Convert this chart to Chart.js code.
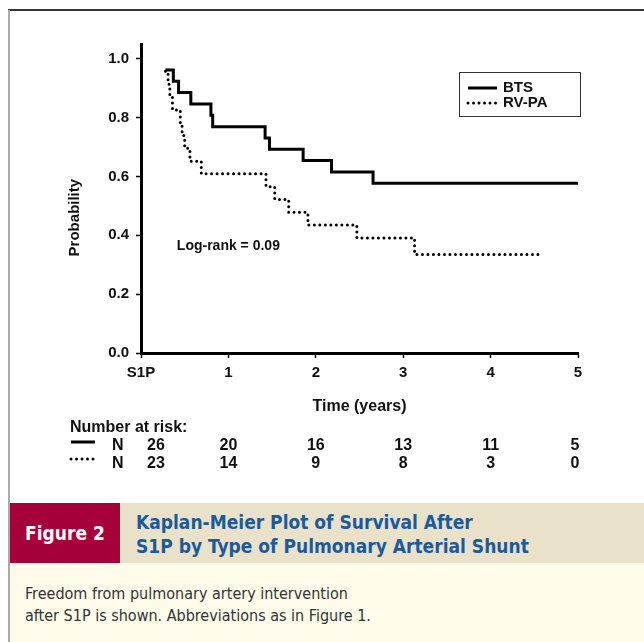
<!DOCTYPE html>
<html lang="en">
<head>
<meta charset="UTF-8">
<title>Figure 2 - Kaplan-Meier Plot</title>
<script src="https://cdn.jsdelivr.net/npm/chart.js"></script>
<style>
  html, body { margin: 0; padding: 0; background: #fff; }
  body { width: 644px; height: 642px; position: relative; overflow: hidden; font-family: "Liberation Sans", Arial, sans-serif; }
  .frame-top { position: absolute; left: 8px; top: 9px; width: 636px; height: 2px; background: #333; }
  .frame-left { position: absolute; left: 8px; top: 10px; width: 2px; height: 632px; background: #aaa; }
  .chart-wrapper { position: absolute; left: 0; top: 0; width: 644px; height: 500px; }
  .fig-label { position: absolute; left: 10px; top: 503px; width: 110px; height: 60px; background: #A6003A;
    color: #fff; font: bold 19px "Liberation Sans Narrow", "DejaVu Sans Condensed", sans-serif;
    display: flex; align-items: center; justify-content: center; }
  .fig-title { position: absolute; left: 120px; top: 503px; width: 524px; height: 60px; background: #E9E1C9;
    color: #1B5A9B; font: bold 19px "Liberation Sans Narrow", "DejaVu Sans Condensed", sans-serif;
    line-height: 24px; box-sizing: border-box; padding: 7px 0 0 16px; }
  .fig-caption { position: absolute; left: 10px; top: 563px; width: 634px; height: 79px; background: #FEFBEA;
    color: #333; font: 16px "Liberation Sans Narrow", "DejaVu Sans Condensed", sans-serif;
    line-height: 22px; box-sizing: border-box; padding: 20px 0 0 15px; }
</style>
</head>
<body>
<div class="frame-top"></div>
<div class="frame-left"></div>
<div class="chart-wrapper"><canvas id="kmChart"></canvas></div>
<div class="fig-label">Figure 2</div>
<div class="fig-title">Kaplan-Meier Plot of Survival After<br>S1P by Type of Pulmonary Arterial Shunt</div>
<div class="fig-caption">Freedom from pulmonary artery intervention<br>after S1P is shown. Abbreviations as in Figure 1.</div>

<script>
// event times (years) and survival probability after each step
const btsTimes = [0.28, 0.37, 0.43, 0.57, 0.80, 0.82, 1.42, 1.47, 1.855, 2.18, 2.655, 5.0];
const btsSurv  = [0.962, 0.923, 0.885, 0.846, 0.808, 0.769, 0.731, 0.692, 0.654, 0.615, 0.577, 0.577];
const rvpaTimes = [0.28, 0.31, 0.33, 0.36, 0.45, 0.47, 0.50, 0.56, 0.69, 1.43, 1.53, 1.69, 1.91, 2.47, 3.13, 4.55];
const rvpaSurv  = [0.957, 0.913, 0.870, 0.826, 0.783, 0.739, 0.696, 0.652, 0.609, 0.565, 0.522, 0.478, 0.435, 0.391, 0.335, 0.335];

const xTickLabels = ['S1P', '1', '2', '3', '4', '5'];
const yTickValues = [0, 0.2, 0.4, 0.6, 0.8, 1.0];
const riskTimes = [0, 1, 2, 3, 4, 5];
const riskBTS  = [26, 20, 16, 13, 11, 5];
const riskRVPA = [23, 14, 9, 8, 3, 0];

const FONT = '"Liberation Sans", Arial, Helvetica, sans-serif';

function toPoints(ts, ss) { return ts.map((t, i) => ({x: t, y: ss[i]})); }

const overlay = {
  id: 'overlay',
  afterDraw(chart) {
    const {ctx, scales: {x, y}} = chart;
    ctx.save();
    ctx.fillStyle = '#111';
    ctx.textBaseline = 'middle';

    // y axis title
    ctx.save();
    ctx.font = 'bold 15px ' + FONT;
    ctx.translate(75, y.getPixelForValue(0.46));
    ctx.rotate(-Math.PI / 2);
    ctx.textAlign = 'center';
    ctx.fillText('Probability', 0, 0);
    ctx.restore();

    // x axis title
    ctx.font = 'bold 16px ' + FONT;
    ctx.textAlign = 'center';
    ctx.fillText('Time (years)', (x.left + x.right) / 2, 407);

    // log-rank
    ctx.font = 'bold 14px ' + FONT;
    ctx.textAlign = 'left';
    ctx.fillText('Log-rank = 0.09', x.getPixelForValue(0.41), y.getPixelForValue(0.364));

    // legend box
    ctx.strokeStyle = '#333';
    ctx.lineWidth = 1;
    ctx.strokeRect(459.5, 72.5, 121, 44);
    const ds = chart.data.datasets;
    const legY = [88, 103];
    ds.forEach((d, i) => {
      ctx.save();
      ctx.strokeStyle = d.borderColor;
      ctx.lineWidth = d.borderWidth;
      ctx.lineCap = d.borderCapStyle;
      ctx.setLineDash(d.borderDash || []);
      ctx.beginPath();
      ctx.moveTo(468, legY[i]);
      ctx.lineTo(497, legY[i]);
      ctx.stroke();
      ctx.restore();
      ctx.font = 'bold 15px ' + FONT;
      ctx.fillText(d.label, 503, legY[i]);
    });

    // number at risk table
    ctx.font = 'bold 16px ' + FONT;
    ctx.textAlign = 'left';
    ctx.fillText('Number at risk:', 70, 428);
    const rows = [[riskBTS, 446], [riskRVPA, 464]];
    rows.forEach(([vals, ry], i) => {
      const d = ds[i];
      ctx.save();
      ctx.strokeStyle = d.borderColor;
      ctx.lineWidth = d.borderWidth;
      ctx.lineCap = d.borderCapStyle;
      ctx.setLineDash(d.borderDash || []);
      ctx.beginPath();
      ctx.moveTo(71, i === 0 ? ry - 4 : ry - 5);
      ctx.lineTo(95, i === 0 ? ry - 4 : ry - 5);
      ctx.stroke();
      ctx.restore();
      ctx.textAlign = 'left';
      ctx.fillText('N', 112, ry);
      ctx.textAlign = 'center';
      vals.forEach((v, k) => {
        let px = x.getPixelForValue(riskTimes[k]);
        if (k === 0) px += 15;
        if (k === vals.length - 1) px -= 3;
        ctx.fillText(String(v), px, ry);
      });
    });
    ctx.restore();
  }
};

new Chart(document.getElementById('kmChart'), {
  type: 'line',
  data: {
    datasets: [
      {
        label: 'BTS',
        data: toPoints(btsTimes, btsSurv),
        borderColor: '#000',
        borderWidth: 3,
        borderCapStyle: 'butt',
        stepped: 'before',
        pointRadius: 0,
        fill: false
      },
      {
        label: 'RV-PA',
        data: toPoints(rvpaTimes, rvpaSurv),
        borderColor: '#000',
        borderWidth: 3,
        borderCapStyle: 'round',
        borderDash: [0, 5.5],
        stepped: 'before',
        pointRadius: 0,
        fill: false
      }
    ]
  },
  options: {
    responsive: true,
    maintainAspectRatio: false,
    animation: false,
    layout: { padding: { top: 44, right: 66, left: 0, bottom: 0 } },
    scales: {
      x: {
        type: 'linear',
        min: 0,
        max: 5,
        afterFit(s) { s.height = 147; },
        grid: { drawOnChartArea: false, drawTicks: true, tickLength: 5, color: '#000', tickWidth: 1.5 },
        border: { display: true, color: '#000', width: 3 },
        ticks: {
          stepSize: 1,
          padding: 6,
          color: '#111',
          font: { family: FONT, size: 15, weight: 'bold' },
          callback: (v) => xTickLabels[v]
        }
      },
      y: {
        min: 0,
        max: 1.05,
        afterFit(s) { s.width = 141; },
        afterBuildTicks(s) { s.ticks = yTickValues.map(v => ({ value: v })); },
        grid: { drawOnChartArea: false, drawTicks: true, tickLength: 5, color: '#000', tickWidth: 1.5 },
        border: { display: true, color: '#000', width: 3 },
        ticks: {
          padding: 7,
          color: '#111',
          font: { family: FONT, size: 15, weight: 'bold' },
          callback: (v) => v.toFixed(1)
        }
      }
    },
    plugins: {
      legend: { display: false },
      tooltip: { enabled: false }
    }
  },
  plugins: [overlay]
});
</script>
</body>
</html>
